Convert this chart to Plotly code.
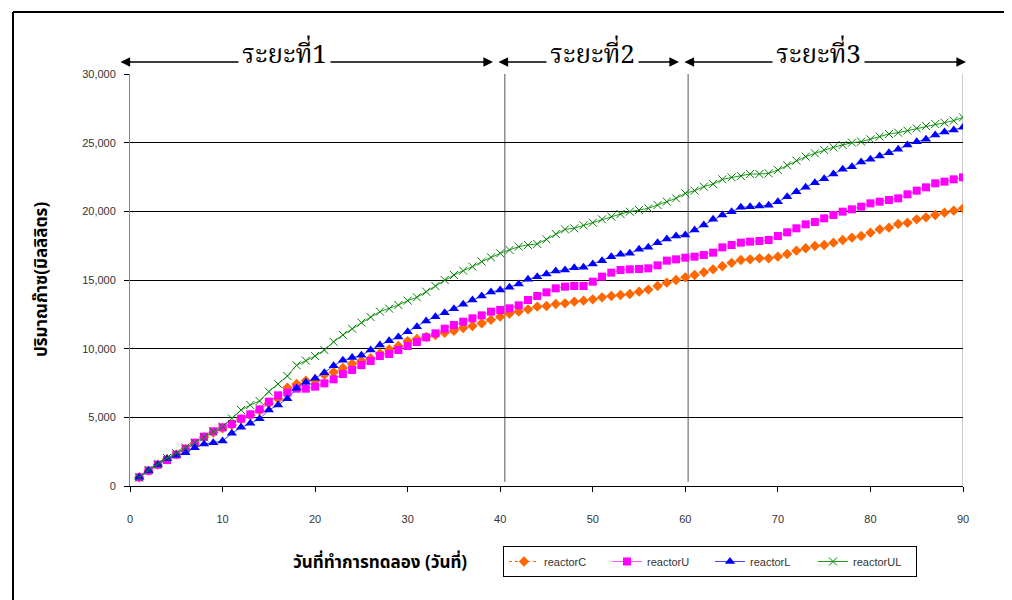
import plotly.graph_objects as go

days = list(range(1, 91))

reactorC = [633, 1117, 1553, 1950, 2300, 2700, 3100, 3550, 3900, 4200,
            4450, 4850, 5150, 5500, 6000, 6350, 7150, 7430, 7670, 7670,
            8100, 8280, 8600, 8900, 9100, 9300, 9650, 9950, 10200, 10550,
            10700, 10850, 11000, 11150, 11310, 11500, 11650, 11850, 12100, 12330,
            12550, 12700, 12864, 13058, 13107, 13252, 13301, 13423, 13495, 13592,
            13738, 13835, 13908, 13980, 14150, 14300, 14563, 14806, 15000, 15194,
            15364, 15559, 15777, 16000, 16250, 16457, 16505, 16578, 16578, 16700,
            16894, 17137, 17307, 17476, 17549, 17719, 17913, 18083, 18204, 18447,
            18689, 18811, 19078, 19174, 19417, 19563, 19733, 19903, 20049, 20218]

reactorU = [633, 1117, 1553, 1893, 2282, 2718, 3155, 3592, 3980, 4272,
            4515, 4903, 5219, 5583, 6141, 6602, 6796, 7087, 7087, 7233,
            7475, 7767, 8150, 8450, 8800, 9100, 9466, 9612, 9903, 10194,
            10486, 10826, 11117, 11456, 11724, 11966, 12209, 12427, 12694, 12816,
            12937, 13155, 13544, 13835, 14102, 14393, 14514, 14563, 14563, 14879,
            15243, 15534, 15728, 15777, 15801, 15849, 16068, 16408, 16505, 16626,
            16700, 16820, 16990, 17379, 17549, 17719, 17792, 17840, 17913, 18204,
            18471, 18762, 19053, 19223, 19490, 19733, 19976, 20146, 20340, 20582,
            20704, 20825, 20947, 21238, 21505, 21748, 22039, 22160, 22330, 22476]

reactorL = [633, 1117, 1553, 1990, 2233, 2427, 2790, 3058, 3155, 3277,
            3835, 4272, 4563, 4903, 5534, 5898, 6357, 7112, 7549, 7840,
            8250, 8750, 9150, 9350, 9515, 9903, 10267, 10583, 10850, 11238,
            11602, 12015, 12330, 12622, 12912, 13228, 13544, 13835, 14127, 14272,
            14466, 14709, 15050, 15243, 15437, 15655, 15728, 15898, 15922, 16165,
            16408, 16700, 16870, 16943, 17234, 17379, 17719, 17985, 18204, 18277,
            18641, 19005, 19417, 19733, 19976, 20291, 20340, 20388, 20437, 20704,
            21068, 21432, 21748, 22087, 22379, 22719, 23059, 23253, 23592, 23786,
            24030, 24272, 24515, 24830, 25073, 25243, 25558, 25777, 25923, 26116]

reactorUL = [633, 1165, 1600, 2040, 2380, 2810, 3155, 3540, 3980, 4320,
             4927, 5534, 5898, 6190, 6870, 7427, 8010, 8786, 9126, 9466,
             9903, 10500, 11000, 11450, 11900, 12300, 12694, 12912, 13180, 13495,
             13738, 14150, 14563, 15000, 15364, 15680, 15970, 16335, 16650, 16943,
             17185, 17427, 17550, 17622, 17961, 18350, 18689, 18762, 18980, 19174,
             19417, 19611, 19806, 19976, 20097, 20218, 20461, 20704, 20947, 21311,
             21505, 21797, 21991, 22330, 22476, 22573, 22719, 22719, 22767, 23010,
             23350, 23689, 23981, 24224, 24466, 24661, 24830, 25000, 25073, 25243,
             25437, 25631, 25728, 25874, 26044, 26213, 26359, 26456, 26602, 26845]

phase_labels = ["ระยะที่1", "ระยะที่2", "ระยะที่3"]
phase_lines = [40.5, 60.3]

x_title = "วันที่ทำการทดลอง (วันที่)"
y_title = "ปริมาณก๊าซ(มิลลิลิตร)"

FONT = "Liberation Sans, Arial, Noto Sans, DejaVu Sans, sans-serif"
THAI = "Noto Sans Thai, Loma, Garuda, DejaVu Sans, Noto Sans, sans-serif"
THAI_SERIF = "Norasi, Noto Serif Thai, Liberation Serif, DejaVu Serif, serif"

# geometry (figure pixels; page adds an 8px body margin)
W, H = 1004, 592
L, R, T, B = 122, 49, 66, 114
PW, PH = W - L - R, H - T - B


def px(xs):  # screen x -> paper
    return (xs - 8 - L) / PW


def py(ys):  # screen y -> paper
    return (H - B - (ys - 8)) / PH


fig = go.Figure()

fig.add_trace(go.Scatter(x=days, y=reactorC, name="reactorC", mode="lines+markers",
                         line=dict(color="#FF6600", width=1, dash="dot"),
                         marker=dict(symbol="diamond", size=8, color="#FF6600")))
fig.add_trace(go.Scatter(x=days, y=reactorU, name="reactorU", mode="lines+markers",
                         line=dict(color="#FF55FF", width=1),
                         marker=dict(symbol="square", size=8, color="#FF00FF")))
fig.add_trace(go.Scatter(x=days, y=reactorL, name="reactorL", mode="lines+markers",
                         line=dict(color="#4444FF", width=1),
                         marker=dict(symbol="triangle-up", size=9, color="#0000FF")))
fig.add_trace(go.Scatter(x=days, y=reactorUL, name="reactorUL", mode="lines+markers",
                         line=dict(color="#229922", width=1),
                         marker=dict(symbol="x-thin", size=8, color="#008000",
                                     line=dict(color="#008000", width=1))))

shapes = []
for xv in phase_lines:
    shapes.append(dict(type="line", xref="x", yref="y", x0=xv, x1=xv, y0=300, y1=30000,
                       line=dict(color="#555555", width=1), layer="below"))
shapes.append(dict(type="line", xref="x", yref="y", x0=90, x1=90, y0=0, y1=30000,
                   line=dict(color="#999999", width=1), layer="below"))
# outer chart border: left and top edges
shapes.append(dict(type="line", xref="paper", yref="paper",
                   x0=px(13), x1=px(13), y0=py(12), y1=py(640),
                   line=dict(color="black", width=2)))
shapes.append(dict(type="line", xref="paper", yref="paper",
                   x0=px(13), x1=px(1060), y0=py(12), y1=py(12),
                   line=dict(color="black", width=2)))

annotations = []
arrow_segments = [(119, 493), (497, 679), (683, 966)]
for (a, b) in arrow_segments:
    annotations.append(dict(x=px(b), y=py(62), xref="paper", yref="paper",
                            ax=a - b, ay=0, text="", showarrow=True,
                            arrowhead=2, arrowside="end+start", arrowsize=1.2,
                            arrowwidth=1.6, arrowcolor="black", standoff=0, startstandoff=0))
label_centers = [284, 592, 818]
for lbl, xc in zip(phase_labels, label_centers):
    annotations.append(dict(x=px(xc), y=py(56), xref="paper", yref="paper", text=lbl,
                            showarrow=False,
                            font=dict(family=THAI_SERIF, size=26, color="black"),
                            bgcolor="white", borderpad=3, xanchor="center", yanchor="middle"))
annotations.append(dict(x=px(380), y=py(563), xref="paper", yref="paper",
                        text="<b>" + x_title + "</b>", showarrow=False,
                        font=dict(family=THAI, size=17, color="black"),
                        xanchor="center", yanchor="middle"))
annotations.append(dict(x=px(42), y=py(280), xref="paper", yref="paper",
                        text="<b>" + y_title + "</b>", showarrow=False, textangle=-90,
                        font=dict(family=THAI, size=17, color="black"),
                        xanchor="center", yanchor="middle"))

fig.update_layout(
    width=W, height=H,
    margin=dict(l=L, r=R, t=T, b=B),
    paper_bgcolor="white", plot_bgcolor="white",
    font=dict(family=FONT, size=11, color="#333333"),
    showlegend=True,
    legend=dict(orientation="h", x=px(503), y=py(546),
                xanchor="left", yanchor="top", bordercolor="black", borderwidth=1,
                font=dict(family=FONT, size=11, color="#333333"),
                entrywidth=58, entrywidthmode="pixels", itemwidth=30),
    shapes=shapes,
    annotations=annotations,
)
fig.update_xaxes(range=[0, 90], dtick=10, tick0=0, showgrid=False, zeroline=False,
                 showline=True, linecolor="black", linewidth=1,
                 ticks="outside", ticklen=5, tickcolor="black", ticklabelstandoff=18,
                 tickfont=dict(family=FONT, size=11, color="#333333"))
fig.update_yaxes(range=[0, 30000], dtick=5000, tick0=0, tickformat=",",
                 showgrid=True, gridcolor="black", gridwidth=1, zeroline=False,
                 showline=True, linecolor="#888888", linewidth=1,
                 ticks="outside", ticklen=5, tickcolor="black", ticklabelstandoff=6,
                 tickfont=dict(family=FONT, size=11, color="#333333"))

fig.write_html("out.html")
